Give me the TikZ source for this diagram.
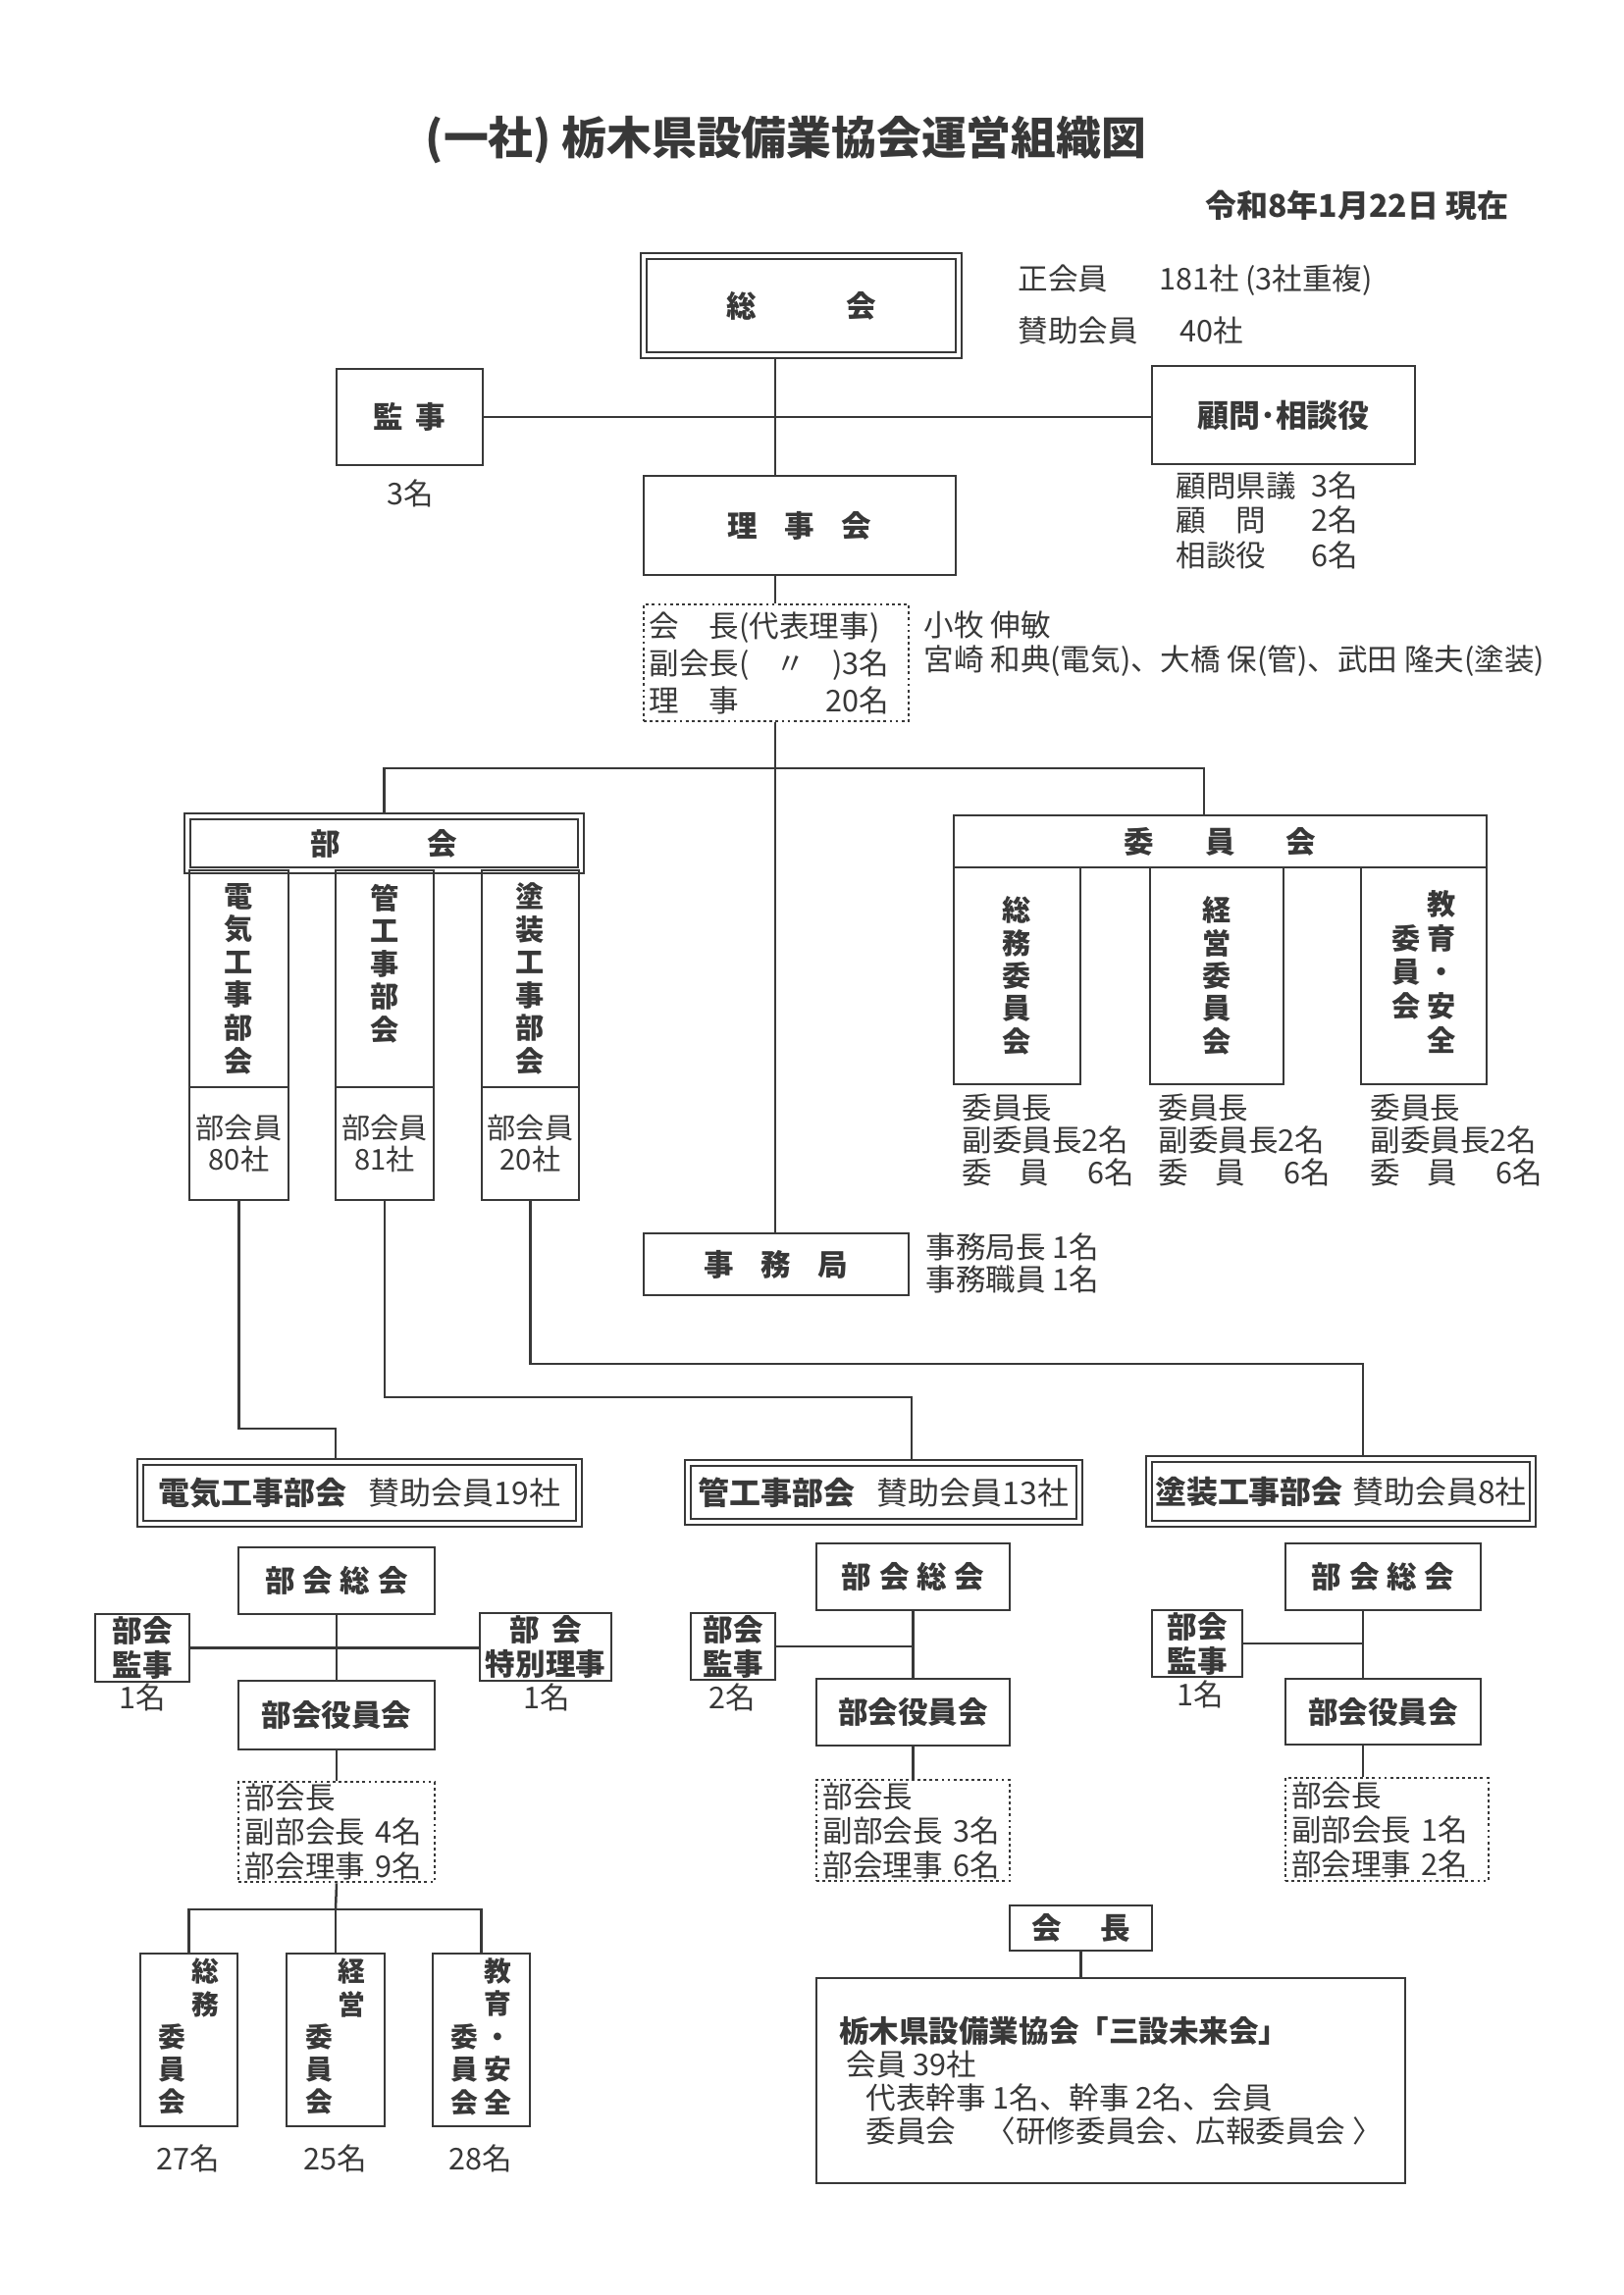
\documentclass[tikz,border=0pt]{standalone}
\usepackage{fontspec}
\setmainfont{Noto Sans CJK JP}
\usepackage{tikz}
\usepackage{xcolor}
\usetikzlibrary{positioning}
\definecolor{OrgInk}{HTML}{383838}
\tikzset{
  orgbox/.style={draw=OrgInk,line width=1pt,align=center,inner sep=0pt,text=OrgInk,font=\bfseries\fontsize{11}{12.6}\selectfont},
  dblbox/.style={orgbox,double=white,double distance=1.5pt,line width=0.8pt,outer sep=1.55pt},
  listbox/.style={draw=OrgInk,line width=1pt,dash pattern=on 1pt off 1.2pt,align=left,inner xsep=2pt,inner ysep=0pt,text=OrgInk,font=\fontsize{11}{12.6}\selectfont},
  note/.style={align=left,inner sep=0pt,text=OrgInk,font=\fontsize{11}{12}\selectfont},
  link/.style={draw=OrgInk,line width=0.9pt},
  wh/.style 2 args={minimum width=#1*0.36pt,minimum height=#2*0.36pt}
}

\begin{document}
\begin{tikzpicture}[x=0.36pt,y=-0.36pt]
  \path[use as bounding box,fill=white] (0,0) rectangle (1654,2339);

  % heading
  \node[font=\bfseries\fontsize{16.5}{19}\selectfont,text=OrgInk] (title) at (801,142) {(一社) 栃木県設備業協会運営組織図};
  \node[anchor=east,font=\bfseries\fontsize{11.5}{13}\selectfont,text=OrgInk] (asof) at (1547,209) {令和8年1月22日 現在};

  % general meeting and board
  \node[dblbox,wh={321}{101}] (soukai) at (816.5,311.5) {総\hspace{3em}会};
  \node[note,anchor=west] (memA) at (1037,286) {\makebox[4.7em][l]{正会員}181社 (3社重複)};
  \node[note,anchor=west] (memB) at (1037,337) {\makebox[5.4em][l]{賛助会員}40社};
  \node[orgbox,wh={149}{98}] (kanji) at (417.5,425) {監\hspace{0.4em}事};
  \node[note] (kanjiN) at (418,503) {3名};
  \node[orgbox,wh={268}{100},font=\bfseries\fontsize{11.5}{13}\selectfont] (komon) at (1308,423) {顧問･相談役};
  \node[note,anchor=west] (komonN) at (1198,534) {\renewcommand{\arraystretch}{1}\begin{tabular}{@{}l@{\hspace{0.5em}}l@{}}顧問県議 & 3名\\ 顧\hspace{1em}問 & 2名\\ 相談役 & 6名\end{tabular}};
  \node[orgbox,wh={318}{101}] (rijikai) at (815,535.5) {理\hspace{0.9em}事\hspace{0.9em}会};
  \node[listbox,wh={270}{119},text width=93pt,font=\fontsize{11}{13.7}\selectfont] (yakuin) at (791,675.5)
    {\makebox[88pt][l]{会\hspace{1em}長(代表理事)}\\\makebox[88pt][l]{副会長(\hfill〃\hfill)3名}\\\makebox[88pt][l]{理\hspace{1em}事\hfill 20名}};
  \node[note,anchor=west] (nameA) at (941,637) {小牧 伸敏};
  \node[note,anchor=west] (nameB) at (941,674) {宮崎 和典(電気)、大橋 保(管)、武田 隆夫(塗装)};

  % sections
  \node[dblbox,wh={401}{55}] (bukai) at (391.5,859.5) {部\hspace{2.9em}会};
  \node[orgbox,wh={101}{221},font=\bfseries\fontsize{10.5}{12.1}\selectfont] (denki) at (243.5,997.5) {電\\気\\工\\事\\部\\会};
  \node[orgbox,wh={100}{221},font=\bfseries\fontsize{10.5}{12.1}\selectfont] (kan) at (392,997.5) {管\\工\\事\\部\\会\\\mbox{}};
  \node[orgbox,wh={99}{221},font=\bfseries\fontsize{10.5}{12.1}\selectfont] (tosou) at (540.5,997.5) {塗\\装\\工\\事\\部\\会};
  \node[orgbox,wh={101}{115},font=\fontsize{10.5}{11.5}\selectfont] (denkiN) at (243.5,1165.5) {部会員\\80社};
  \node[orgbox,wh={100}{115},font=\fontsize{10.5}{11.5}\selectfont] (kanN) at (392,1165.5) {部会員\\81社};
  \node[orgbox,wh={99}{115},font=\fontsize{10.5}{11.5}\selectfont] (tosouN) at (540.5,1165.5) {部会員\\20社};

  % committees
  \node[orgbox,wh={543}{53}] (iinkai) at (1243.5,857.5) {委\hspace{1.7em}員\hspace{1.7em}会};
  \node[orgbox,wh={129}{221},font=\bfseries\fontsize{10.5}{12}\selectfont] (somu) at (1036.5,994.5) {総\\務\\委\\員\\会};
  \node[orgbox,wh={136}{221},font=\bfseries\fontsize{10.5}{12}\selectfont] (keiei) at (1240,994.5) {経\\営\\委\\員\\会};
  \node[orgbox,wh={128}{221},font=\bfseries\fontsize{10.5}{12}\selectfont] (kyoiku) at (1451,994.5)
    {\renewcommand{\arraystretch}{1}\begin{tabular}{@{}c@{\hspace{2.5pt}}c@{}} & 教\\ 委 & 育\\ 員 & ・\\ 会 & 安\\ & 全\end{tabular}};
  \node[note,anchor=west] (somuN) at (980,1162) {委員長\\副委員長2名\\委\hspace{0.9em}員\hspace{1.3em}6名};
  \node[note,anchor=west] (keieiN) at (1180,1162) {委員長\\副委員長2名\\委\hspace{0.9em}員\hspace{1.3em}6名};
  \node[note,anchor=west] (kyoikuN) at (1396,1162) {委員長\\副委員長2名\\委\hspace{0.9em}員\hspace{1.3em}6名};

  % secretariat
  \node[orgbox,wh={270}{63}] (jimu) at (791,1288.5) {事\hspace{0.9em}務\hspace{0.9em}局};
  \node[note,anchor=west] (jimuN) at (943,1287.5) {事務局長 1名\\事務職員 1名};

  % electrical section
  \node[dblbox,wh={447}{63},font=\fontsize{11.5}{13}\selectfont] (eHead) at (366.5,1521.5) {\textbf{電気工事部会}\hspace{0.7em}賛助会員19社};
  \node[orgbox,wh={200}{68}] (eSo) at (343,1611) {部\hspace{0.25em}会\hspace{0.25em}総\hspace{0.25em}会};
  \node[orgbox,wh={96}{69}] (eKan) at (145,1679.5) {部会\\監事};
  \node[note] (eKanN) at (145,1730) {1名};
  \node[orgbox,wh={134}{69}] (eTok) at (556,1678.5) {部\hspace{0.4em}会\\特別理事};
  \node[note] (eTokN) at (557,1730) {1名};
  \node[orgbox,wh={200}{70}] (eYaku) at (343,1748) {部会役員会};
  \node[listbox,wh={200}{102},text width=67pt] (eList) at (343,1867) {部会長\\副部会長 4名\\部会理事 9名};
  \node[orgbox,wh={99}{176},font=\bfseries\fontsize{10}{11.6}\selectfont] (eSom) at (192.5,2079)
    {\renewcommand{\arraystretch}{1}\begin{tabular}{@{}c@{\hspace{2pt}}c@{}} & 総\\ & 務\\ 委 & \\ 員 & \\ 会 & \end{tabular}};
  \node[orgbox,wh={100}{176},font=\bfseries\fontsize{10}{11.6}\selectfont] (eKei) at (342,2079)
    {\renewcommand{\arraystretch}{1}\begin{tabular}{@{}c@{\hspace{2pt}}c@{}} & 経\\ & 営\\ 委 & \\ 員 & \\ 会 & \end{tabular}};
  \node[orgbox,wh={99}{176},font=\bfseries\fontsize{10}{11.6}\selectfont] (eKyo) at (490.5,2079)
    {\renewcommand{\arraystretch}{1}\begin{tabular}{@{}c@{\hspace{2pt}}c@{}} & 教\\ & 育\\ 委 & ・\\ 員 & 安\\ 会 & 全\end{tabular}};
  \node[note] (eSomN) at (192,2200) {27名};
  \node[note] (eKeiN) at (342,2200) {25名};
  \node[note] (eKyoN) at (490,2200) {28名};

  % pipe section
  \node[dblbox,wh={399}{60},font=\fontsize{11.5}{13}\selectfont] (pHead) at (900.5,1521) {\textbf{管工事部会}\hspace{0.7em}賛助会員13社};
  \node[orgbox,wh={197}{68}] (pSo) at (930.5,1607) {部\hspace{0.25em}会\hspace{0.25em}総\hspace{0.25em}会};
  \node[orgbox,wh={86}{68}] (pKan) at (747,1678) {部会\\監事};
  \node[note] (pKanN) at (746,1730) {2名};
  \node[orgbox,wh={197}{68}] (pYaku) at (930.5,1745) {部会役員会};
  \node[listbox,wh={197}{103},text width=66pt] (pList) at (930.5,1865.5) {部会長\\副部会長 3名\\部会理事 6名};

  % painting section
  \node[dblbox,wh={391}{66},font=\fontsize{11.5}{13}\selectfont] (tHead) at (1366.5,1520) {\textbf{塗装工事部会}\hspace{0.3em}賛助会員8社};
  \node[orgbox,wh={199}{68}] (tSo) at (1409.5,1607) {部\hspace{0.25em}会\hspace{0.25em}総\hspace{0.25em}会};
  \node[orgbox,wh={92}{68}] (tKan) at (1220,1675) {部会\\監事};
  \node[note] (tKanN) at (1223,1727) {1名};
  \node[orgbox,wh={199}{67}] (tYaku) at (1409.5,1744.5) {部会役員会};
  \node[listbox,wh={207}{105},text width=70pt] (tList) at (1413.5,1864.5) {部会長\\副部会長 1名\\部会理事 2名};

  % young members
  \node[orgbox,wh={145}{46}] (kaicho) at (1101.5,1965) {会\hspace{1.3em}長};
  \node[orgbox,wh={600}{209},align=left,font=\fontsize{11}{12.2}\selectfont] (mirai) at (1132,2120.5)
    {\textbf{栃木県設備業協会「三設未来会」}\\\hspace*{0.25em}会員 39社\\\hspace*{0.9em}代表幹事 1名、幹事 2名、会員\\\hspace*{0.9em}委員会　〈研修委員会、広報委員会 〉};

  % connectors
  \coordinate (trunk) at (790,0);
  \coordinate (forkR) at (1227,783);
  \coordinate (jogE) at (342,1456);
  \coordinate (jogP) at (929,1424);
  \coordinate (jogT) at (1389,1390);
  \coordinate (forkE) at (342,1946);
  \draw[link] (soukai.south -| trunk) -- (rijikai.north -| trunk);
  \draw[link] (kanji.east) -- (kanji.east -| komon.west);
  \draw[link] (rijikai.south -| trunk) -- (yakuin.north -| trunk);
  \draw[link] (yakuin.south -| trunk) -- (jimu.north -| trunk);
  \draw[link] (bukai.north) |- (forkR) -- (forkR |- iinkai.north);
  \draw[link] (denkiN.south) |- (jogE) -- (jogE |- eHead.north);
  \draw[link] (kanN.south) |- (jogP) -- (jogP |- pHead.north);
  \draw[link] (tosouN.south) |- (jogT) -- (jogT |- tHead.north);
  \draw[link] (eSo.south) -- (eYaku.north);
  \draw[link] (eKan.east) -- (eKan.east -| eTok.west);
  \draw[link] (eYaku.south) -- (eList.north);
  \draw[link] (eList.south) -- (forkE);
  \draw[link] (eSom.north) |- (forkE) -| (eKyo.north);
  \draw[link] (forkE) -- (eKei.north);
  \draw[link] (pSo.south) -- (pYaku.north);
  \draw[link] (pKan.east) -- (pKan.east -| pSo.south);
  \draw[link] (pYaku.south) -- (pList.north);
  \draw[link] (tSo.south -| jogT) -- (tYaku.north -| jogT);
  \draw[link] (tKan.east) -- (tKan.east -| jogT);
  \draw[link] (tYaku.south -| jogT) -- (tList.north -| jogT);
  \draw[link] (kaicho.south) -- (kaicho.south |- mirai.north);
\end{tikzpicture}
\end{document}
